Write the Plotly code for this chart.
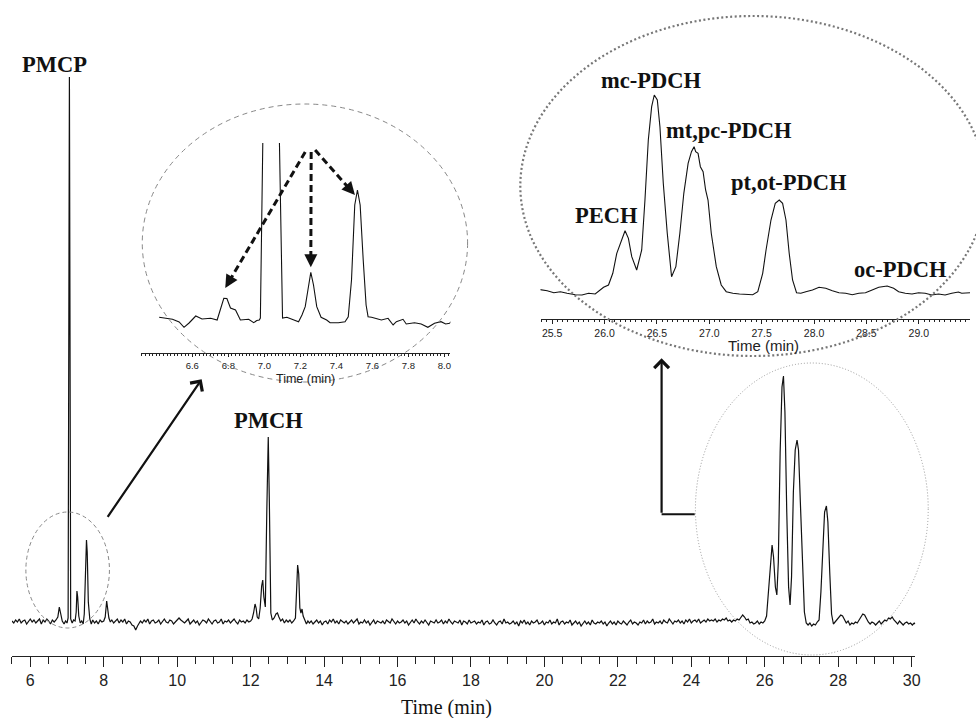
import plotly.graph_objects as go

W, H = 976, 718
STEP = 0.05

# ---------------- main chromatogram (time in min, signal in arbitrary units) -------------
baseline_a_start = 5.50
baseline_a = [1, -1, 2, 0, 3, -1, 1, 2, -2, 1, 3, 0, 2, -1, 1, 3, -2, 2, 0, 3, 1, -2, 2, 0, 2]

early_time = [6.75, 6.79, 6.83, 6.87, 6.92, 6.96, 7.00, 7.03, 7.065, 7.10, 7.14, 7.18, 7.22,
              7.25, 7.27, 7.29, 7.32, 7.36, 7.40, 7.44, 7.47, 7.50, 7.53, 7.55, 7.58, 7.62,
              7.66, 7.70, 7.75, 7.80, 7.85, 7.90, 7.95, 8.00, 8.04, 8.08, 8.11, 8.14, 8.18,
              8.22, 8.27, 8.32, 8.37, 8.42, 8.47, 8.52, 8.57, 8.62, 8.67, 8.72, 8.77, 8.82,
              8.87, 8.92, 8.97]
early_signal = [5, 15, 7, 1, -2, 1, -1, 4, 545, 3, -1, 2, 1,
                10, 31, 25, 6, -1, 1, -2, 8, 50, 82, 70, 20, 3,
                -2, 2, -1, 1, -2, 2, 0, 1, 5, 21, 12, 4, 0,
                2, -1, 1, 3, -1, 2, 0, 3, -2, 1, 0, -3, -4,
                -8, -4, 0]

baseline_b_start = 9.00
baseline_b = [1, -1, 2, 0, 3, -2, 1, 2, -1, 0,
              2, -2, 1, 3, 0, -1, 2, 1, -2, 0,
              3, 4, 2, 0, -1, 1, 3, -2, 0, 2,
              -1, 1, -3, 0, 2, 1, -1, 3, 0, -2,
              1, 2, -1, 0, 3, -2, 1, 0, 2, -1,
              1, 3, 0, -2, 2, 0, 1, -1, 2, 0,
              1]

pmch_time = [12.04, 12.08, 12.12, 12.15, 12.18, 12.22, 12.26, 12.30, 12.33, 12.36, 12.40,
             12.44, 12.48, 12.51, 12.55, 12.59, 12.64, 12.69, 12.73, 12.77, 12.82, 12.87,
             12.92, 12.97, 13.02, 13.07, 13.12, 13.17, 13.22, 13.25, 13.28, 13.31, 13.34,
             13.37, 13.40, 13.43, 13.47, 13.52, 13.56]
pmch_signal = [3, 9, 18, 14, 5, 3, 14, 36, 42, 25, 15,
               110, 185, 120, 9, 2, 4, 8, 9, 5, 1, 3,
               -1, 2, 0, 2, -1, 1, 4, 30, 57, 48, 14,
               9, 13, 6, 2, -2, 1]

baseline_c_start = 13.60
baseline_c = [-1, 1, -2, 0, 2, -1, 1, -3, 0, 1,
              -2, 2, 0, 3, -1, 1, -2, 2, 0, -1,
              1, -2, 0, 2, -1, 1, 3, -2, 0, -1,
              2, -1, 1, -3, 0, 2, -2, 1, 0, -1,
              1, -2, 2, 0, -1, 3, 0, -2, 1, -1,
              0, 2, -1, 1, -3, 0, 2, -1, 3, 0,
              -2, 1, -1, 2, 0, -3, 1, 0, -1, 2,
              -1, 0, 2, -2, 1, -1, 3, 0, -2, 1,
              0, -1, 2, -3, 1, 0, -2, 2, -1, 0,
              1, -2, 0, -1, 2, -3, 0, 1, -2, -1,
              2, -1, -3, 0, 1, -2, 3, -1, 0, -2,
              -1, 1, -2, 0, -4, 1, -1, 2, -2, 0,
              -3, 1, -1, 0, 2, -2, -1, 1, -3, 0,
              -1, 2, -2, 0, -1, 3, -3, 0, 1, -2,
              0, -1, 2, -3, -1, 1, -2, 0, -4, -1,
              1, -2, 0, -3, 2, -1, -2, 0, -1, 1,
              -2, 0, -4, -1, 1, -2, 0, -3, 1, -1,
              -2, 1, -1, -3, 0, 2, -2, 0, -1, -3,
              0, -1, 2, -2, 1, -1, 0, 3, -2, 0,
              -1, 1, -2, 2, 0, -1, 3, 0, -2, 1,
              0, 2, -1, 1, -2, 2, 0, 3, -1, 1,
              2, 0, 3, -1, 1, 2, 0, 3, 1, 2,
              1, 3, 0, 2, 1, 3, 2, 4, 1, 2]

late_time = [25.10, 25.15, 25.20, 25.25, 25.30, 25.35, 25.40, 25.45, 25.50, 25.55, 25.60,
             25.65, 25.70, 25.75, 25.80, 25.85, 25.90, 25.95, 26.00, 26.05, 26.10, 26.15,
             26.20, 26.24, 26.29, 26.33, 26.37, 26.42, 26.47, 26.51, 26.55, 26.60, 26.65,
             26.69, 26.73, 26.78, 26.83, 26.88, 26.92, 26.97, 27.03, 27.08, 27.13, 27.18,
             27.23, 27.28, 27.33, 27.38, 27.43, 27.48, 27.53, 27.58, 27.63, 27.68, 27.72,
             27.77, 27.82, 27.87, 27.92, 27.97, 28.02, 28.07, 28.12, 28.17, 28.22, 28.27,
             28.32, 28.37, 28.42, 28.47, 28.52, 28.57, 28.62, 28.67, 28.72, 28.77, 28.82,
             28.87, 28.92, 28.97, 29.02, 29.07, 29.12, 29.17, 29.22, 29.27, 29.32, 29.37,
             29.42, 29.47, 29.52, 29.57, 29.62, 29.67, 29.72, 29.77, 29.82, 29.87, 29.92,
             29.97, 30.02, 30.07, 30.10]
late_signal = [0, 2, 1, 3, 2, 5, 7, 5, 2, 3, -1,
               0, -2, -1, 1, -2, 0, -1, 1, 6, 30, 60,
               77, 65, 35, 27, 60, 170, 235, 246, 210, 110, 35,
               17, 45, 130, 172, 182, 172, 120, 50, 10, -1, -3,
               -1, -4, -2, -3, 0, 2, 30, 75, 110, 116, 100,
               50, 8, -2, 0, 2, 4, 7, 6, 2, -1, 1,
               -3, -1, -2, 0, -1, 2, 5, 8, 7, 3, 0,
               -2, 0, -1, -3, -1, 1, -2, 0, 2, 1, 4,
               3, 5, 2, 0, -2, 1, -1, -3, -1, 0, -2,
               -1, -3, -1, -2]

# ---------------- inset 1: PDCBs region (6.3 - 8.0 min) ----------------
pdcb_time = [6.416, 6.490, 6.527, 6.554, 6.582, 6.619, 6.654, 6.702, 6.738, 6.753, 6.775,
             6.792, 6.812, 6.840, 6.867, 6.913, 6.941, 6.958, 6.972, 6.978, 7.010, 7.060,
             7.101, 7.125, 7.151, 7.190, 7.209, 7.227, 7.242, 7.258, 7.273, 7.291, 7.315,
             7.346, 7.365, 7.411, 7.448, 7.466, 7.484, 7.502, 7.517, 7.532, 7.549, 7.565,
             7.576, 7.595, 7.650, 7.687, 7.715, 7.733, 7.770, 7.788, 7.834, 7.871, 7.908,
             7.945, 7.981, 8.007, 8.028, 8.037]
pdcb_signal = [2.7, 0.7, -2.0, -7.3, -3.0, 4.0, 1.0, 1.7, 0.0, 8.0, 21.7,
               21.5, 12.0, 10.0, 0.0, 0.7, -2.7, -0.5, 0.0, 2.0, 420, 420,
               2.0, 2.7, 1.0, -1.7, 5.0, 13.3, 30.0, 47.7, 35.0, 13.3, 2.7,
               0.0, -2.7, -2.7, -1.7, 3.3, 40.0, 115.0, 130.0, 115.0, 60.0, 15.0,
               3.3, 2.7, 0.0, 1.7, -5.0, -1.7, 0.7, -4.0, -2.7, -4.0, -7.3,
               -3.3, -1.7, -4.0, -3.3, -1.7]

# ---------------- inset 2: PECH / PDCH region (25.4 - 29.5 min) ----------------
pdch_time = [25.367, 25.453, 25.516, 25.579, 25.642, 25.721, 25.785, 25.848, 25.911, 25.965,
             25.991, 26.038, 26.079, 26.117, 26.165, 26.196, 26.228, 26.260, 26.307, 26.355,
             26.386, 26.418, 26.450, 26.475, 26.504, 26.529, 26.561, 26.599, 26.640, 26.681,
             26.719, 26.757, 26.798, 26.830, 26.855, 26.870, 26.893, 26.915, 26.941, 26.965,
             26.988, 27.019, 27.067, 27.114, 27.162, 27.225, 27.288, 27.352, 27.415, 27.463,
             27.510, 27.542, 27.589, 27.630, 27.668, 27.700, 27.732, 27.763, 27.795, 27.833,
             27.874, 27.922, 27.985, 28.048, 28.112, 28.175, 28.238, 28.302, 28.365, 28.428,
             28.491, 28.555, 28.618, 28.698, 28.760, 28.808, 28.871, 28.935, 28.998, 29.061,
             29.125, 29.188, 29.251, 29.315, 29.378, 29.410, 29.489]
pdch_signal = [4.0, 2.6, 0.6, 1.6, 0.0, -1.4, -1.7, 0.0, -0.7, 3.3,
               6.0, 8.3, 20.0, 40.0, 55.0, 62.6, 55.0, 36.6, 23.3, 43.3,
               93.3, 153.3, 186.6, 198.3, 193.3, 166.6, 110.0, 60.0, 16.6, 26.6,
               60.0, 100.0, 130.0, 141.6, 146.6, 141.6, 140.0, 126.6, 121.6, 103.3,
               93.3, 60.0, 26.6, 8.3, 1.6, 0.0, -0.7, -0.7, -1.4, 1.6,
               20.0, 43.3, 73.3, 90.0, 93.3, 90.0, 73.3, 40.0, 13.3, 0.6,
               0.0, 1.6, 3.3, 6.0, 5.0, 2.6, 0.6, 0.0, -1.4, 0.0,
               0.6, 3.3, 6.0, 7.3, 5.0, 1.6, 0.0, -0.7, 0.6, 0.0,
               -1.7, -0.7, -1.7, 0.0, 1.3, 0.0, 0.6]

main_ticks = [6, 8, 10, 12, 14, 16, 18, 20, 22, 24, 26, 28, 30]
inset1_ticks = [6.6, 6.8, 7.0, 7.2, 7.4, 7.6, 7.8, 8.0]
inset2_ticks = [25.5, 26.0, 26.5, 27.0, 27.5, 28.0, 28.5, 29.0]

pdch_labels = ["mc-PDCH", "mt,pc-PDCH", "pt,ot-PDCH", "PECH", "oc-PDCH"]
pdch_label_t = [26.44, 27.193, 27.763, 26.016, 28.824]
pdch_label_y = [213, 162.3, 110.3, 78, 23.7]

# PDCB arrows: start (near label) -> tip (above peak), inset-1 coordinates
pdcb_arrow_start = [(7.227, 168), (7.260, 168), (7.282, 170)]
pdcb_arrow_tip = [(6.783, 32), (7.258, 52.7), (7.503, 125)]


def build(start, vals):
    return [round(start + i * STEP, 3) for i in range(len(vals))]


main_time = (build(baseline_a_start, baseline_a) + early_time + build(baseline_b_start, baseline_b)
             + pmch_time + build(baseline_c_start, baseline_c) + late_time)
main_signal = baseline_a + early_signal + baseline_b + pmch_signal + baseline_c + late_signal

# ---------------- layout geometry (pixels) ----------------
X1_DOM = (12, 920); X1_RANGE = (5.5, 30.1)
Y1_DOM = (656, 60); Y1_RANGE = (-34, 562)
X2_DOM = (141.7, 452.7); X2_RANGE = (6.315, 8.033)
Y2_DOM = (353.3, 143); Y2_RANGE = (-33.3, 177)
X3_DOM = (543.3, 975); X3_RANGE = (25.389, 29.489)
Y3_DOM = (319, 60); Y3_RANGE = (-25.7, 233.3)


def px(x):
    return x / W


def py(y):
    return 1 - y / H


def to_px(v, dom, rng):
    return dom[0] + (v - rng[0]) / (rng[1] - rng[0]) * (dom[1] - dom[0])


INK = '#111111'
SERIF = 'Liberation Serif'
SANS = 'Liberation Sans'

fig = go.Figure()
fig.add_trace(go.Scatter(x=main_time, y=main_signal, mode='lines',
                         line=dict(color=INK, width=1.2), xaxis='x', yaxis='y', hoverinfo='skip'))
fig.add_trace(go.Scatter(x=pdcb_time, y=pdcb_signal, mode='lines',
                         line=dict(color=INK, width=1.1), xaxis='x2', yaxis='y2', hoverinfo='skip'))
fig.add_trace(go.Scatter(x=pdch_time, y=pdch_signal, mode='lines',
                         line=dict(color=INK, width=1.1), xaxis='x3', yaxis='y3', hoverinfo='skip'))


def xaxis_style(dom, rng, ticks, ticklen, minor_dtick, minor_len, fsize, anchor, tick0):
    return dict(domain=[px(dom[0]), px(dom[1])], range=list(rng), anchor=anchor,
                showline=True, linecolor='#222', linewidth=1, ticks='outside', ticklen=ticklen,
                tickwidth=1, tickcolor='#222', tickmode='array', tickvals=ticks,
                ticktext=[str(t) if isinstance(t, int) else f"{t:.1f}" for t in ticks],
                minor=dict(ticks='outside', tickmode='linear', tick0=tick0, dtick=minor_dtick,
                           ticklen=minor_len, tickcolor='#222', tickwidth=1, showgrid=False),
                showgrid=False, zeroline=False, fixedrange=True,
                tickfont=dict(family=SANS, size=fsize, color='#222'))


def yaxis_style(dom, rng, anchor):
    return dict(domain=[py(dom[0]), py(dom[1])], range=list(rng), visible=False,
                anchor=anchor, fixedrange=True)


fig.update_layout(
    width=W, height=H, margin=dict(l=0, r=0, t=0, b=0),
    paper_bgcolor='white', plot_bgcolor='rgba(0,0,0,0)', showlegend=False,
    xaxis=xaxis_style(X1_DOM, X1_RANGE, main_ticks, 10, 0.5, 7, 16, 'y', 5.5),
    yaxis=yaxis_style(Y1_DOM, Y1_RANGE, 'x'),
    xaxis2=xaxis_style(X2_DOM, X2_RANGE, inset1_ticks, 3, 0.02, 2, 9.5, 'y2', 6.32),
    yaxis2=yaxis_style(Y2_DOM, Y2_RANGE, 'x2'),
    xaxis3=xaxis_style(X3_DOM, X3_RANGE, inset2_ticks, 4, 0.05, 2, 10.5, 'y3', 25.4),
    yaxis3=yaxis_style(Y3_DOM, Y3_RANGE, 'x3'),
)

ann = []
shapes = []


def label(x, y, xref, yref, text, family, size, color=INK):
    return dict(x=x, y=y, xref=xref, yref=yref, text=text, showarrow=False,
                xanchor='center', yanchor='middle', font=dict(family=family, size=size, color=color))


# peak labels
ann.append(label(6.665, 557, 'x', 'y', '<b>PMCP</b>', SERIF, 22.5))
ann.append(label(12.49, 202, 'x', 'y', '<b>PMCH</b>', SERIF, 22.5))
ann.append(label(7.332, 180, 'x2', 'y2', '<b>PDCBs</b>', SERIF, 22.5))
for lab, t, v in zip(pdch_labels, pdch_label_t, pdch_label_y):
    ann.append(label(t, v, 'x3', 'y3', f'<b>{lab}</b>', SERIF, 22.5))

# axis titles
ann.append(label(px(449), py(707), 'paper', 'paper', 'Time (min)', SERIF, 20))
ann.append(label(px(307), py(379), 'paper', 'paper', 'Time (min)', SANS, 12.5, '#222'))
ann.append(label(px(767), py(345), 'paper', 'paper', 'Time (min)', SANS, 15, '#222'))

# PDCB dashed arrows
for (st, sv), (tt, tv) in zip(pdcb_arrow_start, pdcb_arrow_tip):
    sx, sy = to_px(st, X2_DOM, X2_RANGE), to_px(sv, Y2_DOM, Y2_RANGE)
    tx, ty = to_px(tt, X2_DOM, X2_RANGE), to_px(tv, Y2_DOM, Y2_RANGE)
    dx, dy = sx - tx, sy - ty
    L = (dx * dx + dy * dy) ** 0.5
    ux, uy = dx / L, dy / L
    ex, ey = tx + 10 * ux, ty + 10 * uy
    shapes.append(dict(type='line', xref='paper', yref='paper', x0=px(sx), y0=py(sy), x1=px(ex), y1=py(ey),
                       line=dict(color=INK, width=3, dash='7px,4px')))
    ann.append(dict(x=tt, y=tv, xref='x2', yref='y2', ax=14 * ux, ay=14 * uy, axref='pixel', ayref='pixel',
                    text='', showarrow=True, arrowhead=2, arrowsize=1.0, arrowwidth=2.6, arrowcolor=INK,
                    standoff=0))

# main arrow to inset 1
ann.append(dict(x=px(202.7), y=py(379.3), xref='paper', yref='paper', ax=-95, ay=139,
                axref='pixel', ayref='pixel', text='', showarrow=True, arrowhead=4, arrowsize=1.3,
                arrowwidth=2.2, arrowcolor=INK, standoff=0))
# L connector to inset 2
shapes.append(dict(type='line', xref='paper', yref='paper', x0=px(665), y0=py(514.3), x1=px(698.3),
                   y1=py(514.3), line=dict(color=INK, width=2)))
ann.append(dict(x=px(665), y=py(358.3), xref='paper', yref='paper', ax=0, ay=156,
                axref='pixel', ayref='pixel', text='', showarrow=True, arrowhead=4, arrowsize=1.3,
                arrowwidth=2.2, arrowcolor=INK, standoff=0))


def ellipse(cx, cy, rx, ry, color, width, dash):
    return dict(type='circle', xref='paper', yref='paper', x0=px(cx - rx), x1=px(cx + rx),
                y0=py(cy + ry), y1=py(cy - ry), line=dict(color=color, width=width, dash=dash),
                fillcolor='rgba(0,0,0,0)', layer='above')


shapes.append(ellipse(68, 570, 42, 58, '#888', 1, '4px,3px'))
shapes.append(ellipse(306.5, 243, 163.5, 139, '#888', 1, '5px,4px'))
shapes.append(ellipse(816, 509, 117, 146, '#999', 1, '1px,2px'))
shapes.append(ellipse(757, 186, 234, 170, '#777', 2.2, '2px,2.5px'))

fig.update_layout(annotations=ann, shapes=shapes)
fig.write_html('out.html')
